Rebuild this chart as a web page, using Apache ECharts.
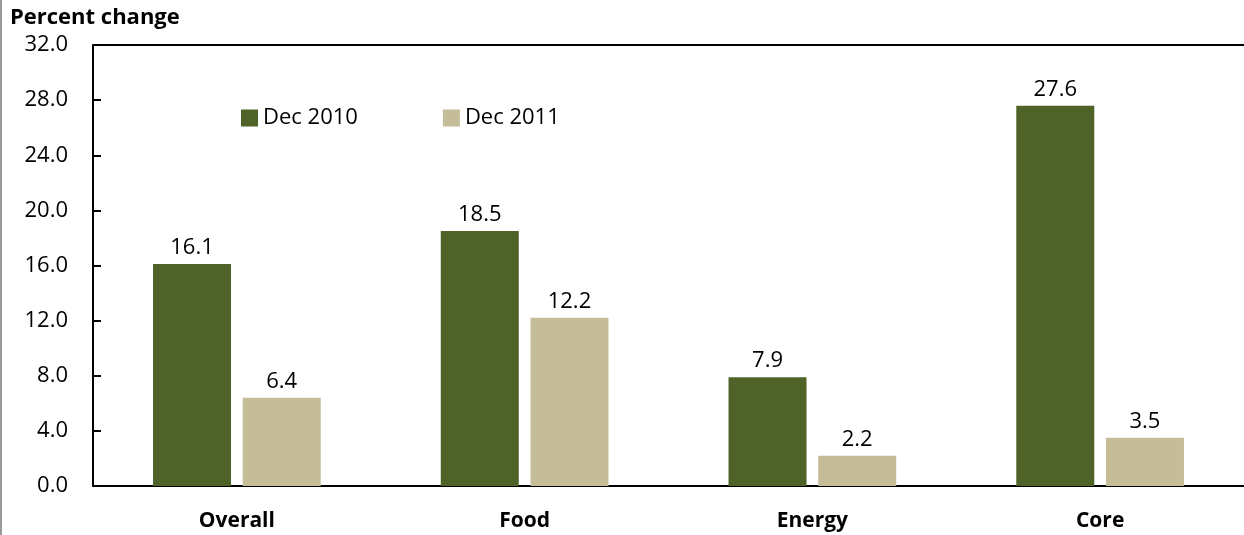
<!DOCTYPE html>
<html><head><meta charset="utf-8">
<script src="https://cdn.jsdelivr.net/npm/echarts@6/dist/echarts.min.js"></script>
<style>html,body{margin:0;padding:0;background:#fff}#c{width:1244px;height:535px}</style>
</head><body><div id="c"></div>
<script>
const categories = ['Overall', 'Food', 'Energy', 'Core'];
const dec2010 = [16.1, 18.5, 7.9, 27.6];
const dec2011 = [6.4, 12.2, 2.2, 3.5];
const yTicks = { min: 0, max: 32, interval: 4 };
const FONT = 'Open Sans';
const FS = 22;
const chart = echarts.init(document.getElementById('c'));
const lbl = { show: true, position: 'top', distance: 5, color: '#000', fontFamily: FONT, fontSize: FS, formatter: p => p.value.toFixed(1) };
chart.setOption({
  animation: false,
  textStyle: { fontFamily: FONT },
  grid: { left: 93, right: 0, top: 45, bottom: 49 },
  legend: {
    left: 236, top: 102, itemWidth: 17, itemHeight: 17, itemGap: 85,
    icon: 'rect',
    textStyle: { fontFamily: FONT, fontSize: FS, color: '#000' },
    data: ['Dec 2010', 'Dec 2011']
  },
  graphic: [
    { type: 'rect', shape: { x: 0, y: 0, width: 2, height: 535 }, style: { fill: '#9a9a9a' } },
    { type: 'text', left: 10, top: 7, style: { text: 'Percent change', font: 'bold 22px "Open Sans"', fill: '#000' } },
    { type: 'line', shape: { x1: 93, y1: 45, x2: 1244, y2: 45 }, style: { stroke: '#000', lineWidth: 2 } }
  ],
  xAxis: {
    type: 'category', data: categories,
    axisLine: { lineStyle: { color: '#000', width: 2 } },
    axisTick: { show: false },
    axisLabel: { color: '#000', fontFamily: FONT, fontSize: 21, fontWeight: 'bold', margin: 25 }
  },
  yAxis: {
    type: 'value', min: yTicks.min, max: yTicks.max, interval: yTicks.interval,
    axisLine: { show: true, lineStyle: { color: '#000', width: 2 } },
    axisTick: { show: true, inside: true, length: 8, lineStyle: { color: '#000', width: 2 } },
    splitLine: { show: false },
    axisLabel: { color: '#000', fontFamily: FONT, fontSize: FS, margin: 25, formatter: v => v.toFixed(1) }
  },
  series: [
    { name: 'Dec 2010', type: 'bar', data: dec2010, barWidth: 78, barGap: '15%', itemStyle: { color: '#4F6228' }, label: lbl },
    { name: 'Dec 2011', type: 'bar', data: dec2011, barWidth: 78, itemStyle: { color: '#C4BD97' }, label: lbl }
  ]
});
</script></body></html>
